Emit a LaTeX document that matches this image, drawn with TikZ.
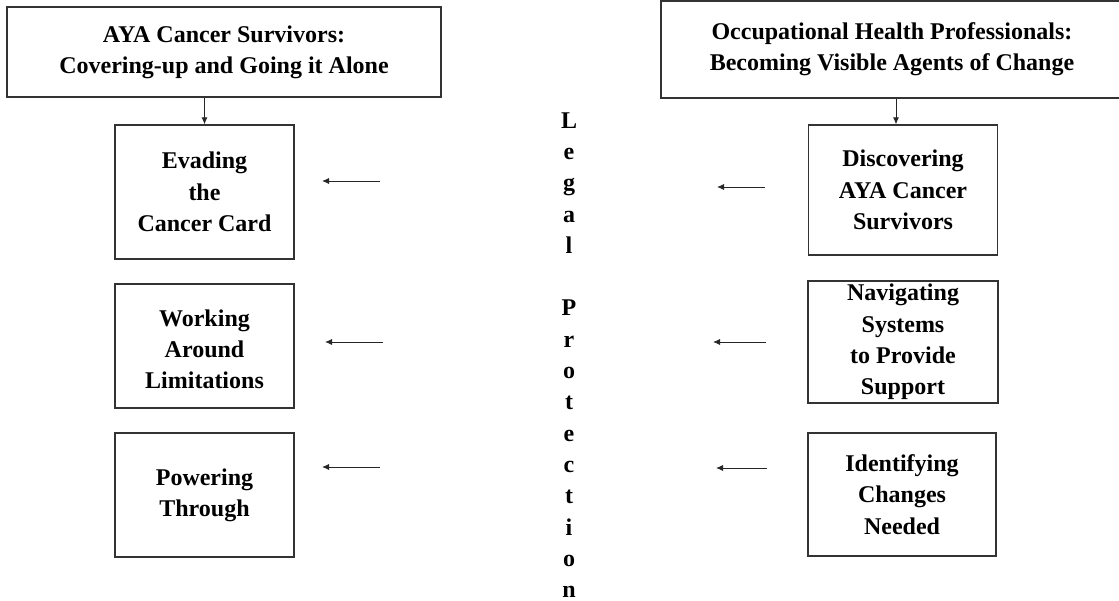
\documentclass[tikz,border=0pt]{standalone}
\usepackage{fontspec}
\setmainfont{Liberation Serif}
\usetikzlibrary{arrows.meta}
\begin{document}
\begin{tikzpicture}[x=1pt,y=-1pt,
  box/.style={draw=black!80,line width=1.3pt,inner sep=0pt,align=center,
    font=\bfseries\fontsize{24}{31.3}\selectfont},
  sub/.style={box,minimum width=179pt,minimum height=#1},
  arr/.style={draw=black!85,line width=0.9pt,-{Latex[length=7pt,width=6pt]}},
  lbl/.style={align=center,inner sep=0pt,font=\bfseries\fontsize{24}{31.3}\selectfont}]
\useasboundingbox (0,0) rectangle (1119,601);
\fill[white] (0,0) rectangle (1119,601);
% top boxes
\node[box,minimum width=434pt,minimum height=90pt] (tl) at (224,52)
  {AYA Cancer Survivors:\\Covering-up and Going it Alone};
\node[box,minimum width=470pt,minimum height=97pt] (tr) at (896,49.5)
  {\hspace*{-8pt}Occupational Health Professionals:\\\hspace*{-8pt}Becoming Visible Agents of Change};
% left column
\node[sub=134pt] (ev) at (204.5,192) {Evading\\the\\Cancer Card};
\node[sub=124pt] (wa) at (204.5,346) {\\[-8pt]Working\\Around\\Limitations};
\node[sub=124pt] (pt) at (204.5,495) {Powering\\Through};
% right column
\node[box,minimum width=189pt,minimum height=130pt] (dc) at (903,190)
  {Discovering\\AYA Cancer\\Survivors};
\node[box,minimum width=190pt,minimum height=122pt] (ns) at (903,342)
  {Navigating\\Systems\\to Provide\\Support};
\node[box,minimum width=188pt,minimum height=123pt] (ic) at (902,494.5)
  {Identifying\\Changes\\Needed};
% legal protection
\node[lbl] (lp) at (569,355)
  {L\\e\\g\\a\\l\\~\\P\\r\\o\\t\\e\\c\\t\\i\\o\\n};
% vertical arrows
\draw[arr] (tl.south -| ev.north) -- (ev.north);
\draw[arr] (tr.south -| 896,0) -- (dc.north -| 896,0);
% horizontal arrows
\coordinate (a1s) at (380,181); \coordinate (a1e) at (322,181);
\coordinate (a2s) at (383,342); \coordinate (a2e) at (325,342);
\coordinate (a3s) at (380,467); \coordinate (a3e) at (322,467);
\coordinate (b1s) at (765,187); \coordinate (b1e) at (717,187);
\coordinate (b2s) at (766,342); \coordinate (b2e) at (713,342);
\coordinate (b3s) at (767,468); \coordinate (b3e) at (716,468);
\draw[arr] (a1s) -- (a1e);
\draw[arr] (a2s) -- (a2e);
\draw[arr] (a3s) -- (a3e);
\draw[arr] (b1s) -- (b1e);
\draw[arr] (b2s) -- (b2e);
\draw[arr] (b3s) -- (b3e);
\end{tikzpicture}
\end{document}
